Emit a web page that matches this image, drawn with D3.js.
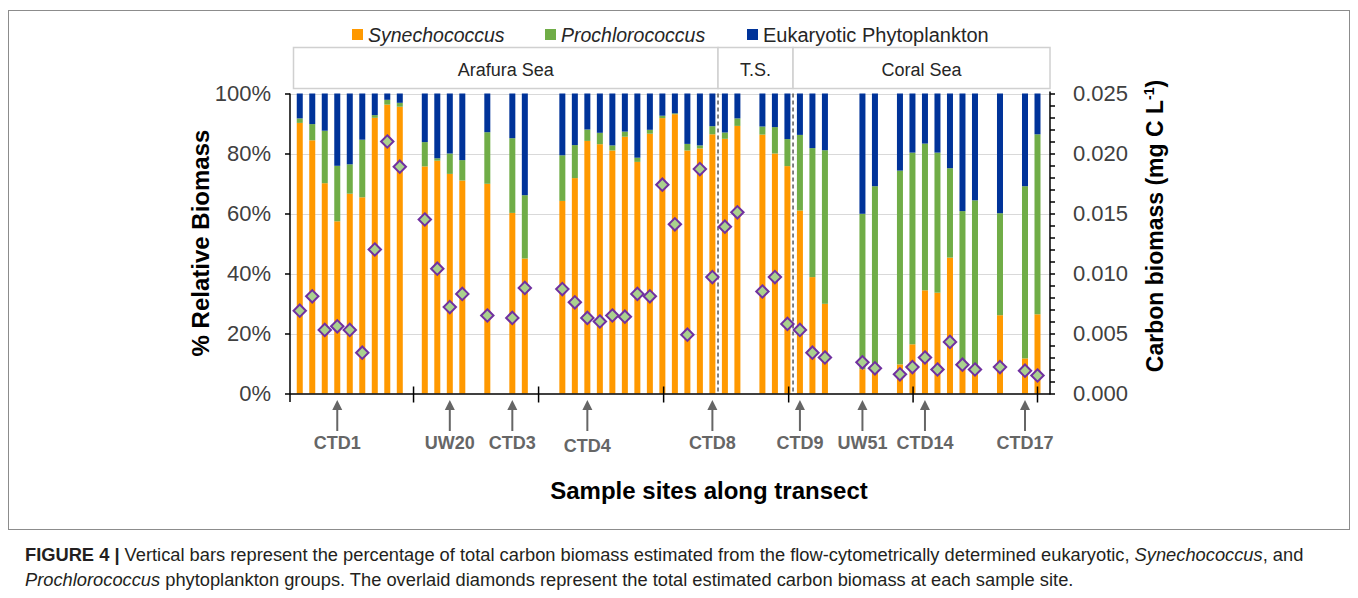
<!DOCTYPE html>
<html>
<head>
<meta charset="utf-8">
<script src="https://cdn.jsdelivr.net/npm/d3@7/dist/d3.min.js"></script>
<style>
  html, body { margin: 0; padding: 0; background: #fff; }
  svg { display: block; font-family: "Liberation Sans", Arial, sans-serif; }
</style>
</head>
<body>
<svg id="chart" width="1358" height="598"></svg>
<script>
// Position of each sample along the transect (slot index; gaps are empty slots)
const slot = [0, 1, 2, 3, 4, 5, 6, 7, 8,
  10, 11, 12, 13, 15, 17, 18,
  21, 22, 23, 24, 25, 26, 27, 28, 29, 30, 31, 32, 33,
  34, 35, 37, 38, 39,
  40, 41, 42, 45, 46, 48, 49, 50, 51, 52, 53, 54, 56, 58, 59];

// Relative carbon biomass (%) per group
const synechococcus = [90.2, 84.4, 70.1, 57.4, 66.6, 65.4, 91.9, 96.3, 95.6,
  75.7, 77.6, 73.2, 71.0, 69.9, 60.2, 45.0,
  64.2, 71.8, 84.2, 83.1, 81.0, 85.6, 77.2, 86.6, 91.8, 93.1, 81.0, 81.7, 86.4,
  84.9, 89.2, 86.3, 80.0, 75.8,
  61.0, 38.8, 29.9, 8.1, 7.0, 9.7, 16.4, 34.4, 33.6, 45.3, 8.3, 7.8, 26.1, 11.7, 26.4];
const prochlorococcus = [1.5, 5.4, 17.5, 18.5, 9.8, 19.2, 0.9, 1.6, 1.3,
  8.1, 0.8, 6.8, 6.8, 17.2, 24.9, 21.1,
  15.2, 11.0, 3.8, 3.8, 1.7, 1.7, 1.4, 1.3, 0.8, 0.3, 2.2, 1.0, 2.7,
  2.1, 2.5, 2.7, 8.8, 9.0,
  25.2, 43.0, 51.2, 51.8, 62.1, 64.6, 63.9, 48.9, 46.7, 29.8, 52.5, 56.6, 34.0, 57.4, 60.0];
const eukaryotes = [8.3, 10.2, 12.4, 24.1, 23.6, 15.4, 7.2, 2.1, 3.1,
  16.2, 21.6, 20.0, 22.2, 12.9, 14.9, 33.9,
  20.6, 17.2, 12.0, 13.1, 17.3, 12.7, 21.4, 12.1, 7.4, 6.6, 16.8, 17.3, 10.9,
  13.0, 8.3, 11.0, 11.2, 15.2,
  13.8, 18.2, 18.9, 40.1, 30.9, 25.7, 19.7, 16.7, 19.7, 24.9, 39.2, 35.6, 39.9, 30.9, 13.6];

// Total carbon biomass (mg C L-1)
const carbonBiomass = [0.0069, 0.0081, 0.0053, 0.0056, 0.0053, 0.0034, 0.0120, 0.0210, 0.0189,
  0.0145, 0.0104, 0.0072, 0.0083, 0.0065, 0.0063, 0.0088,
  0.0087, 0.0076, 0.0063, 0.0060, 0.0065, 0.0064, 0.0083, 0.0081, 0.0174, 0.0141, 0.0049, 0.0187, 0.0097,
  0.0139, 0.0151, 0.0085, 0.0097, 0.0058,
  0.0053, 0.0034, 0.0030, 0.0026, 0.0021, 0.0016, 0.0022, 0.0030, 0.0020, 0.0043, 0.0024, 0.0020, 0.0022, 0.0019, 0.0015];

// Labelled stations and the slot they point to
const stationNames = ["CTD1", "UW20", "CTD3", "CTD4", "CTD8", "CTD9", "UW51", "CTD14", "CTD17"];
const stationSlots = [3, 12, 17, 23, 33, 40, 45, 50, 58];

// Group boundaries on the category axis (slot units)
const groupTicks = [9.1, 19.1, 29.1, 39.1, 49.05, 59];

// Regions along the transect: [name, start slot, end slot]
const regionNames = ["Arafura Sea", "T.S.", "Coral Sea"];
const regionStart = [-0.5, 33.45, 39.45];
const regionEnd = [33.45, 39.45, 60];
const regionDividers = [33.45, 39.45];

const leftTicks = [0, 20, 40, 60, 80, 100];
const rightTicks = [0, 0.005, 0.010, 0.015, 0.020, 0.025];

const seriesKeys = ["syn", "pro", "euk"];
const seriesLabels = ["Synechococcus", "Prochlorococcus", "Eukaryotic Phytoplankton"];
const seriesItalic = [true, true, false];
const colors = { syn: "#FF9900", pro: "#70AD47", euk: "#003399" };

const rows = slot.map((s, i) => ({
  slot: s, syn: synechococcus[i], pro: prochlorococcus[i], euk: eukaryotes[i], carbon: carbonBiomass[i]
}));

const svg = d3.select("#chart");

// Figure frame around the chart panel
svg.append("rect").attr("x", 8.5).attr("y", 10.5).attr("width", 1341).attr("height", 519)
  .attr("fill", "none").attr("stroke", "#8c8c8c").attr("stroke-width", 1);

const plotLeft = 290, plotRight = 1050, plotTop = 93.5, plotBottom = 393.5;

const x = d3.scaleLinear().domain([-0.78, 60]).range([plotLeft, plotRight]);
const y = d3.scaleLinear().domain([0, 100]).range([plotBottom, plotTop]);
const y2 = d3.scaleLinear().domain([0, 0.025]).range([plotBottom, plotTop]);

// Horizontal gridlines
svg.append("g").selectAll("line").data(leftTicks.filter(t => t > 0)).join("line")
  .attr("x1", plotLeft).attr("x2", plotRight)
  .attr("y1", d => Math.round(y(d)) + 0.5).attr("y2", d => Math.round(y(d)) + 0.5)
  .attr("stroke", "#d9d9d9").attr("stroke-width", 1);

// Stacked bars
const stacked = d3.stack().keys(seriesKeys)(rows);
const barW = 6;
svg.append("g").selectAll("g").data(stacked).join("g")
  .attr("fill", d => colors[d.key])
  .selectAll("rect").data(d => d).join("rect")
  .attr("x", d => x(d.data.slot) - barW / 2)
  .attr("width", barW)
  .attr("y", d => y(d[1]))
  .attr("height", d => y(d[0]) - y(d[1]));

// Region dividers
svg.append("g").selectAll("line").data(regionDividers).join("line")
  .attr("x1", d => x(d)).attr("x2", d => x(d))
  .attr("y1", plotTop).attr("y2", plotBottom)
  .attr("stroke", "#595959").attr("stroke-width", 1.5).attr("stroke-dasharray", "4,3");

// Diamonds for total carbon biomass
const dSize = 6.2;
svg.append("g").selectAll("path").data(rows).join("path")
  .attr("d", d => {
    const cx = x(d.slot), cy = y2(d.carbon);
    return `M${cx},${cy - dSize}L${cx + dSize},${cy}L${cx},${cy + dSize}L${cx - dSize},${cy}Z`;
  })
  .attr("fill", "#A9D18E").attr("stroke", "#7030A0").attr("stroke-width", 2);

// Left axis
const leftAxis = d3.axisLeft(y).tickValues(leftTicks).tickFormat(d => d + "%").tickSize(5).tickPadding(14);
const gL = svg.append("g").attr("transform", `translate(${plotLeft},0)`).call(leftAxis);
gL.select(".domain").remove();
gL.selectAll(".tick line").attr("stroke", "#000").attr("stroke-width", 1.5);
gL.selectAll(".tick text").attr("font-size", 22).attr("fill", "#404040")
  .attr("font-family", "Liberation Sans, Arial, sans-serif");
svg.append("line").attr("x1", plotLeft).attr("x2", plotLeft).attr("y1", plotTop).attr("y2", 402)
  .attr("stroke", "#000").attr("stroke-width", 1.5);

// Right axis: minor ticks every 0.001, labels every 0.005
const minorTicks = d3.range(0, 26).map(i => i / 1000);
const rightAxis = d3.axisRight(y2).tickValues(minorTicks)
  .tickFormat(d => rightTicks.some(t => Math.abs(t - d) < 1e-9) ? d3.format(".3f")(d) : "")
  .tickSize(5).tickPadding(18);
const gR = svg.append("g").attr("transform", `translate(${plotRight},0)`).call(rightAxis);
gR.select(".domain").remove();
gR.selectAll(".tick line").attr("stroke", "#000").attr("stroke-width", 1.5);
gR.selectAll(".tick text").attr("font-size", 22).attr("fill", "#404040")
  .attr("font-family", "Liberation Sans, Arial, sans-serif");
svg.append("line").attr("x1", plotRight).attr("x2", plotRight).attr("y1", plotTop - 2).attr("y2", plotBottom + 1)
  .attr("stroke", "#000").attr("stroke-width", 1.5);

// Category axis with group ticks crossing the baseline
svg.append("line").attr("x1", plotLeft).attr("x2", plotRight).attr("y1", plotBottom + 0.5).attr("y2", plotBottom + 0.5)
  .attr("stroke", "#000").attr("stroke-width", 1.5);
svg.append("g").selectAll("line").data(groupTicks).join("line")
  .attr("x1", d => x(d)).attr("x2", d => x(d))
  .attr("y1", plotBottom - 7).attr("y2", plotBottom + 9)
  .attr("stroke", "#000").attr("stroke-width", 1.5);

// Station arrows and labels
const st = svg.append("g");
stationSlots.forEach((s, i) => {
  const cx = x(s);
  st.append("line").attr("x1", cx).attr("x2", cx).attr("y1", 408).attr("y2", 431)
    .attr("stroke", "#666").attr("stroke-width", 2);
  st.append("path").attr("d", `M${cx},400L${cx + 5},410L${cx - 5},410Z`).attr("fill", "#666");
  st.append("text").attr("x", cx).attr("y", i === 3 ? 452 : 449)
    .attr("text-anchor", "middle").attr("font-size", 18).attr("font-weight", "bold")
    .attr("fill", "#666").text(stationNames[i]);
});

// Region header boxes
const hdr = svg.append("g");
regionNames.forEach((name, i) => {
  const x0 = i === 0 ? 293.5 : x(regionStart[i]);
  const x1 = i === 2 ? plotRight : x(regionEnd[i]);
  hdr.append("rect").attr("x", x0).attr("y", 47.5).attr("width", x1 - x0).attr("height", 41)
    .attr("fill", "#fff").attr("stroke", "#d0d0d0").attr("stroke-width", 1.5);
  hdr.append("text").attr("x", (x0 + x1) / 2).attr("y", 76).attr("text-anchor", "middle")
    .attr("font-size", 18).attr("fill", "#262626").text(name);
});

// Legend
const legendX = [352, 545, 747];
const lg = svg.append("g");
seriesKeys.forEach((k, i) => {
  lg.append("rect").attr("x", legendX[i]).attr("y", 29).attr("width", 11).attr("height", 11).attr("fill", colors[k]);
  lg.append("text").attr("x", legendX[i] + 16).attr("y", 41.5).attr("font-size", i === 2 ? 20 : 19.5)
    .attr("font-style", seriesItalic[i] ? "italic" : "normal").attr("fill", "#262626").text(seriesLabels[i]);
});

// Axis titles
svg.append("text").attr("transform", "translate(209,243) rotate(-90)").attr("text-anchor", "middle")
  .attr("font-size", 24).attr("font-weight", "bold").attr("fill", "#000").text("% Relative Biomass");
const rt = svg.append("text").attr("transform", "translate(1163,226) rotate(-90)").attr("text-anchor", "middle")
  .attr("font-size", 23).attr("font-weight", "bold").attr("fill", "#000");
rt.append("tspan").text("Carbon biomass (mg C L");
rt.append("tspan").attr("font-size", 14).attr("dy", -9).text("-1");
rt.append("tspan").attr("dy", 9).text(")");
svg.append("text").attr("x", 709).attr("y", 499).attr("text-anchor", "middle")
  .attr("font-size", 24).attr("font-weight", "bold").attr("fill", "#000").text("Sample sites along transect");

// Caption
const cap = svg.append("g").attr("font-size", 18.3).attr("fill", "#231f20");
const c1 = cap.append("text").attr("x", 25).attr("y", 561);
c1.append("tspan").attr("font-weight", "bold").text("FIGURE 4 | ");
c1.append("tspan").text("Vertical bars represent the percentage of total carbon biomass estimated from the flow-cytometrically determined eukaryotic, ");
c1.append("tspan").attr("font-style", "italic").text("Synechococcus");
c1.append("tspan").text(", and");
const c2 = cap.append("text").attr("x", 25).attr("y", 586);
c2.append("tspan").attr("font-style", "italic").text("Prochlorococcus");
c2.append("tspan").text(" phytoplankton groups. The overlaid diamonds represent the total estimated carbon biomass at each sample site.");
</script>
</body>
</html>
